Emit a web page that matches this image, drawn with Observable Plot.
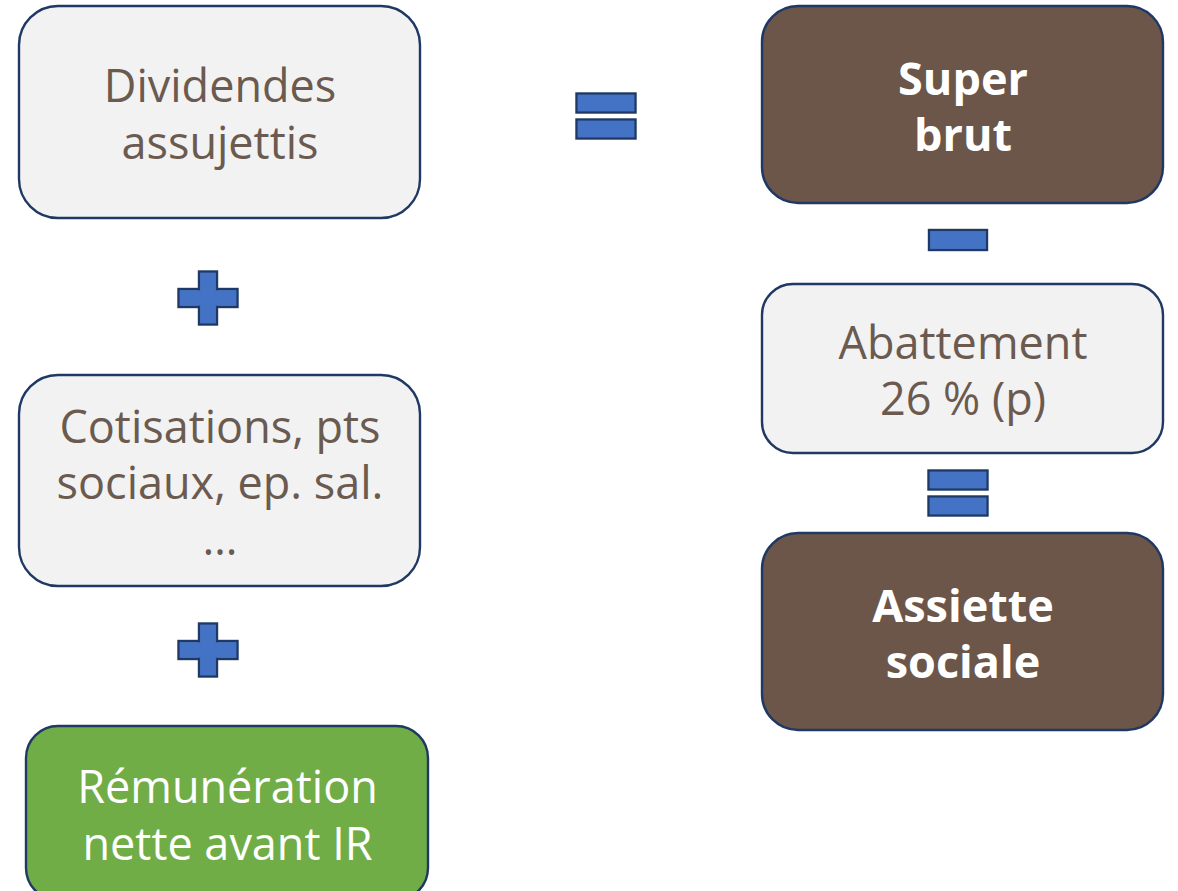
<!DOCTYPE html>
<html>
<head>
<meta charset="utf-8">
<script src="https://cdn.jsdelivr.net/npm/d3@7"></script>
<script src="https://cdn.jsdelivr.net/npm/@observablehq/plot@0.6"></script>
<style>
  html, body { margin: 0; padding: 0; background: #ffffff; }
  #chart svg { display: block; }
</style>
</head>
<body>
<div id="chart"></div>
<script>
// ---- Diagram content ----
const boxLabels = [
  "Dividendes\nassujettis",
  "Cotisations, pts\nsociaux, ep. sal.\n…",
  "Rémunération\nnette avant IR",
  "Super\nbrut",
  "Abattement\n26 % (p)",
  "Assiette\nsociale"
];
const boxKinds = ["light", "light", "green", "dark", "light", "dark"];

// ---- Layout (pixel grid of the picture) ----
const boxLeft   = [19, 19, 26, 762, 762, 762];
const boxRight  = [420, 420, 428, 1163, 1163, 1163];
const boxTop    = [6, 375, 726, 6, 284, 533];
const boxBottom = [218, 586, 900, 203, 453, 730];

const opSymbols = ["plus", "plus", "equals", "minus", "equals"];
const opCenterX = [208, 208, 606, 958, 958];
const opCenterY = [298, 650, 116, 240, 493];

// ---- Styles ----
const fillByKind = {light: "#f2f2f2", green: "#70ad47", dark: "#6b5649"};
const textByKind = {light: "#6b5a4f", green: "#ffffff", dark: "#ffffff"};
const weightByKind = {light: "normal", green: "normal", dark: "bold"};
const outline = "#1f3864";
const opFill = "#4472c4";

const W = 1178, H = 891;

const boxes = boxLabels.map((label, i) => ({
  label, kind: boxKinds[i],
  x1: boxLeft[i], x2: boxRight[i], y1: boxTop[i], y2: boxBottom[i],
  cx: (boxLeft[i] + boxRight[i]) / 2, cy: (boxTop[i] + boxBottom[i]) / 2
}));

// operator bars
const bars = [];
opSymbols.forEach((s, i) => {
  const cx = opCenterX[i], cy = opCenterY[i];
  if (s === "plus") {
    bars.push({x1: cx - 29.5, x2: cx + 29.5, y1: cy - 9, y2: cy + 9});
    bars.push({x1: cx - 9, x2: cx + 9, y1: cy - 26.5, y2: cy + 26.5});
  } else if (s === "minus") {
    bars.push({x1: cx - 29, x2: cx + 29, y1: cy - 10, y2: cy + 10});
  } else {
    bars.push({x1: cx - 29.5, x2: cx + 29.5, y1: cy - 22.5, y2: cy - 3.5});
    bars.push({x1: cx - 29.5, x2: cx + 29.5, y1: cy + 3.5, y2: cy + 22.5});
  }
});

const font = "'Open Sans', 'Noto Sans', sans-serif";

const boxMarks = boxes.map(b => Plot.rect([b], {
  x1: "x1", x2: "x2", y1: "y1", y2: "y2",
  fill: fillByKind[b.kind], stroke: outline, strokeWidth: 2.4,
  rx: Math.round(Math.min(b.x2 - b.x1, b.y2 - b.y1) * 0.185)
}));

const textMarks = ["light", "green", "dark"].map(k => Plot.text(boxes.filter(b => b.kind === k), {
  x: "cx", y: "cy", text: "label",
  fill: textByKind[k], fontWeight: weightByKind[k],
  fontSize: 45, lineHeight: 1.25, fontFamily: font,
  textAnchor: "middle", lineAnchor: "middle"
}));

const chart = Plot.plot({
  width: W, height: H,
  margin: 0,
  x: {domain: [0, W], range: [0, W], axis: null},
  y: {domain: [0, H], range: [0, H], axis: null},
  style: {background: "#ffffff"},
  marks: [
    ...boxMarks,
    ...textMarks,
    Plot.rect(bars, {x1: "x1", x2: "x2", y1: "y1", y2: "y2", fill: opFill, stroke: outline, strokeWidth: 2.4}),
    Plot.rect(bars, {x1: "x1", x2: "x2", y1: "y1", y2: "y2", fill: opFill, inset: 1.3})
  ]
});
document.getElementById("chart").append(chart);
</script>
</body>
</html>
